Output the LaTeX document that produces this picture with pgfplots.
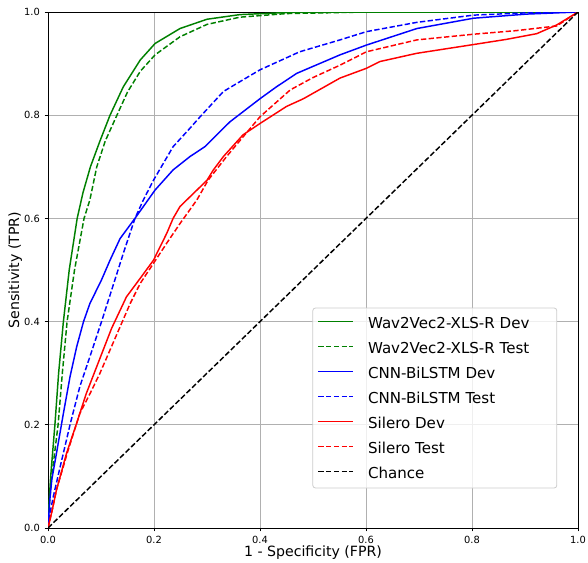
\documentclass[border=0pt]{standalone}
\usepackage{fontspec}
\setmainfont{DejaVu Sans}
\usepackage{pgfplots}
\pgfplotsset{compat=1.18}

\definecolor{mplgreen}{HTML}{008000}
\definecolor{mplblue}{HTML}{0000FF}
\definecolor{mplred}{HTML}{FF0000}
\definecolor{gridgray}{HTML}{B0B0B0}
\definecolor{legedge}{HTML}{CCCCCC}
\tikzset{
  dsh/.style={dash pattern=on 4pt off 1.8pt},
  legtext/.style={anchor=base west, inner sep=0pt, text=black,
    font=\fontsize{11.3}{13.5}\selectfont},
  legline/.style={line width=1.1pt, draw=#1},
}

\begin{document}
\begin{tikzpicture}
\begin{axis}[
  scale only axis,
  width=397.5pt, height=387pt,
  xmin=0, xmax=1, ymin=0, ymax=1,
  xtick={0,0.2,0.4,0.6,0.8,1},
  ytick={0,0.2,0.4,0.6,0.8,1},
  xticklabel style={/pgf/number format/.cd, fixed, fixed zerofill, precision=1},
  yticklabel style={/pgf/number format/.cd, fixed, fixed zerofill, precision=1},
  /pgf/number format/assume math mode=true,
  tick label style={font=\fontsize{7.4}{9}\selectfont},
  label style={font=\fontsize{10.6}{12.5}\selectfont},
  xlabel={1 - Specificity (FPR)},
  ylabel={Sensitivity (TPR)},
  xlabel style={at={(axis description cs:0.5,-0.047)}, anchor=center},
  ylabel style={at={(axis description cs:-0.062,0.5)}, anchor=center},
  grid=major,
  grid style={gridgray, line width=0.6pt},
  tick align=outside,
  xtick pos=left, ytick pos=left,
  major tick length=2.6pt,
  tick style={black, line width=0.6pt},
  axis line style={line width=0.6pt},
  every axis plot/.append style={line width=1.1pt},
]
% Wav2Vec2-XLS-R Dev
\addplot[mplgreen] coordinates {
  (0,0) (0.002,0.05) (0.005,0.1) (0.009,0.15) (0.013,0.2) (0.020,0.3)
  (0.029,0.4) (0.040,0.5) (0.055,0.6) (0.066,0.65) (0.080,0.70) (0.098,0.75)
  (0.117,0.80) (0.142,0.855) (0.174,0.907) (0.202,0.939) (0.249,0.968)
  (0.30,0.986) (0.362,0.995) (0.45,0.999) (0.6,1) (1,1)
};
% Wav2Vec2-XLS-R Test
\addplot[mplgreen, dsh] coordinates {
  (0,0) (0.003,0.05) (0.007,0.1) (0.013,0.15) (0.019,0.2) (0.027,0.3)
  (0.036,0.4) (0.050,0.5) (0.068,0.6) (0.079,0.636) (0.092,0.70) (0.108,0.75)
  (0.130,0.80) (0.150,0.845) (0.174,0.885) (0.202,0.917) (0.249,0.952)
  (0.30,0.976) (0.362,0.990) (0.45,0.997) (0.6,1) (1,1)
};
% CNN-BiLSTM Dev
\addplot[mplblue] coordinates {
  (0,0) (0.003,0.05) (0.007,0.093) (0.016,0.145) (0.029,0.222) (0.0415,0.293)
  (0.054,0.351) (0.067,0.40) (0.079,0.435) (0.101,0.481) (0.117,0.519)
  (0.136,0.561) (0.164,0.60) (0.202,0.655) (0.236,0.694) (0.268,0.720)
  (0.296,0.739) (0.343,0.787) (0.40,0.832) (0.431,0.855) (0.469,0.881)
  (0.551,0.917) (0.601,0.936) (0.696,0.968) (0.803,0.988) (0.903,0.996) (1,1)
};
% CNN-BiLSTM Test
\addplot[mplblue, dsh] coordinates {
  (0,0) (0.004,0.03) (0.010,0.061) (0.023,0.119) (0.0415,0.2) (0.060,0.274)
  (0.079,0.332) (0.101,0.40) (0.120,0.461) (0.142,0.532) (0.164,0.60)
  (0.180,0.636) (0.199,0.674) (0.236,0.739) (0.268,0.775) (0.287,0.797)
  (0.331,0.846) (0.362,0.865) (0.40,0.888) (0.475,0.923) (0.551,0.946)
  (0.601,0.962) (0.696,0.980) (0.803,0.994) (0.916,0.999) (1,1)
};
% Silero Dev
\addplot[mplred] coordinates {
  (0,0) (0.008,0.035) (0.016,0.074) (0.035,0.145) (0.054,0.203) (0.072,0.26)
  (0.092,0.313) (0.106,0.35) (0.120,0.387) (0.148,0.448) (0.174,0.484)
  (0.199,0.519) (0.224,0.571) (0.236,0.600) (0.249,0.623) (0.262,0.636)
  (0.281,0.655) (0.30,0.674) (0.312,0.694) (0.331,0.720) (0.368,0.762)
  (0.40,0.784) (0.450,0.817) (0.482,0.832) (0.551,0.872) (0.601,0.891)
  (0.626,0.904) (0.696,0.920) (0.803,0.937) (0.865,0.947) (0.922,0.958)
  (0.960,0.975) (1,1)
};
% Silero Test
\addplot[mplred, dsh] coordinates {
  (0,0) (0.008,0.035) (0.016,0.074) (0.038,0.151) (0.060,0.222) (0.080,0.262)
  (0.098,0.300) (0.117,0.345) (0.136,0.390) (0.155,0.435) (0.174,0.474)
  (0.199,0.513) (0.224,0.552) (0.249,0.590) (0.281,0.636) (0.302,0.674)
  (0.337,0.720) (0.368,0.758) (0.40,0.797) (0.457,0.849) (0.50,0.873)
  (0.551,0.897) (0.601,0.923) (0.696,0.946) (0.803,0.957) (0.884,0.964)
  (0.960,0.973) (1,1)
};
% Chance
\addplot[black, dsh] coordinates {(0,0) (1,1)};
\coordinate (legse) at (axis description cs:0.96,0.0775);
\coordinate (bbl) at (rel axis cs:-0.0906,-0.0678);
\coordinate (btr) at (rel axis cs:1.0189,1.0233);
\end{axis}
% legend drawn by hand so the box and samples match the matplotlib one
\begin{scope}[shift={(legse)}]
  \path[draw=legedge, fill=white, fill opacity=0.8, rounded corners=2pt, line width=0.6pt]
    (-183pt,0pt) rectangle (0pt,135pt);
  \path[legline=mplgreen]      (-178.8pt,124.95pt) -- ++(26.25pt,0pt);
  \path[legline=mplgreen, dsh] (-178.8pt,106.2pt)  -- ++(26.25pt,0pt);
  \path[legline=mplblue]       (-178.8pt,87.45pt)  -- ++(26.25pt,0pt);
  \path[legline=mplblue, dsh]  (-178.8pt,68.7pt)   -- ++(26.25pt,0pt);
  \path[legline=mplred]        (-178.8pt,49.95pt)  -- ++(26.25pt,0pt);
  \path[legline=mplred, dsh]   (-178.8pt,31.2pt)   -- ++(26.25pt,0pt);
  \path[legline=black, dsh]    (-178.8pt,12.45pt)  -- ++(26.25pt,0pt);
  \node[legtext] at (-141.75pt,119.95pt) {Wav2Vec2-XLS-R Dev};
  \node[legtext] at (-141.75pt,101.2pt)  {Wav2Vec2-XLS-R Test};
  \node[legtext] at (-141.75pt,82.45pt)  {CNN-BiLSTM Dev};
  \node[legtext] at (-141.75pt,63.7pt)   {CNN-BiLSTM Test};
  \node[legtext] at (-141.75pt,44.95pt)  {Silero Dev};
  \node[legtext] at (-141.75pt,26.2pt)   {Silero Test};
  \node[legtext] at (-141.75pt,7.45pt)   {Chance};
\end{scope}
\pgfresetboundingbox
\path[use as bounding box] (bbl) rectangle (btr);
\end{tikzpicture}
\end{document}
